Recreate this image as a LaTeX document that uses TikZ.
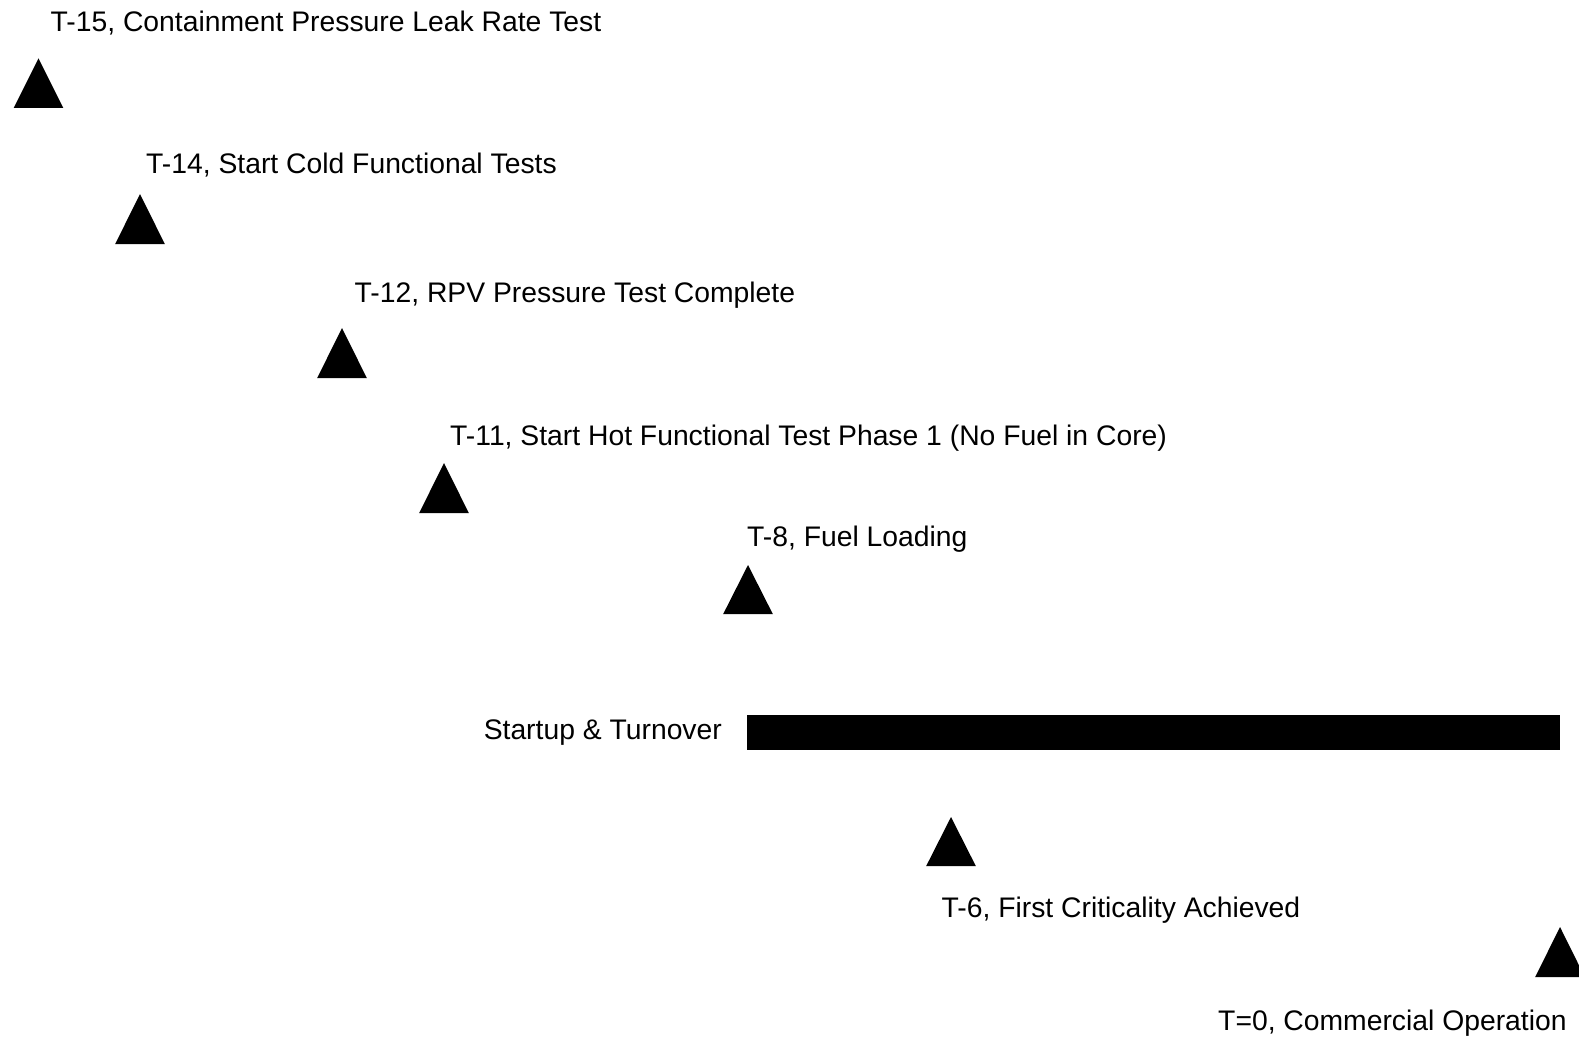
\documentclass[tikz,border=0pt]{standalone}
\usepackage{fontspec}
\setmainfont{Liberation Sans}
\begin{document}
\begin{tikzpicture}[x=1pt,y=-1pt,
  lbl/.style={anchor=west,inner sep=0pt,text height=20.3pt,text depth=0pt,font=\fontsize{28.3}{34}\selectfont},
  tri/.style={fill=black}]
\useasboundingbox (0,0) rectangle (1579,1038);
\fill[white] (0,0) rectangle (1579,1038);
% milestone triangles: centre x, apex y, base y
\newcommand\mstri[4]{%
  \coordinate (#1) at (#2,#3);
  \fill[tri] (#2,#3) -- (#2+24.8,#4) -- (#2-24.8,#4) -- cycle;}
\mstri{t15}{38.5}{58.5}{108}
\mstri{t14}{140}{194}{244}
\mstri{t12}{342}{328}{378}
\mstri{t11}{444}{463}{513}
\mstri{t8}{748}{565}{614}
\mstri{t6}{951}{817}{866}
\mstri{t0}{1560}{927}{977}

\node[lbl] (l15) at (50.5,21) {T-15, Containment Pressure Leak Rate Test};
\node[lbl] (l14) at (146,163) {T-14, Start Cold Functional Tests};
\node[lbl] (l12) at (354.5,292) {T-12, RPV Pressure Test Complete};
\node[lbl] (l11) at (450,435) {T-11, Start Hot Functional Test Phase 1 (No Fuel in Core)};
\node[lbl] (l8) at (747,536) {T-8, Fuel Loading};
\node[lbl,anchor=east] (lsu) at (722,729) {Startup \& Turnover};
\node[fill=black,inner sep=0pt,minimum width=813pt,minimum height=35pt,anchor=north west] (bar) at (747,715) {};
\node[lbl] (l6) at (941.5,907) {T-6, First Criticality Achieved};
\node[lbl] (l0) at (1218,1020) {T=0, Commercial Operation};
\end{tikzpicture}
\end{document}
